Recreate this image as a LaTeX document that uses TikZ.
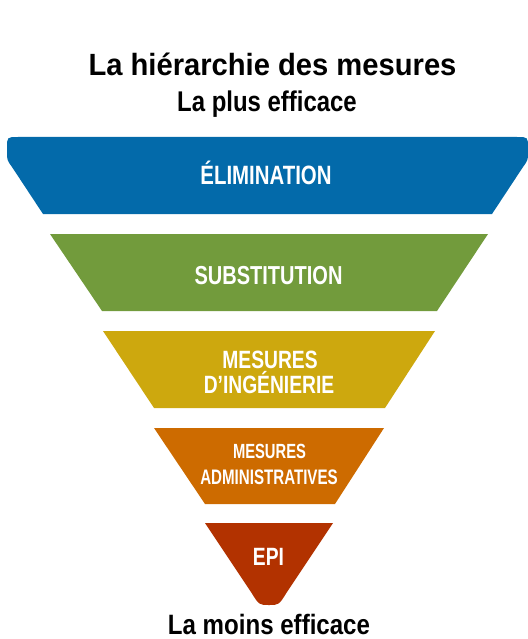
\documentclass[tikz,border=0pt]{standalone}
\usepackage{fontspec}
\newfontfamily\titlef[FakeStretch=0.95]{Liberation Sans}
\newfontfamily\subf[FakeStretch=0.84]{Liberation Sans}
\newfontfamily\lowf[FakeStretch=0.86]{Liberation Sans}
\newfontfamily\bandf[FakeStretch=0.77]{Liberation Sans}
\newfontfamily\smallbandf[FakeStretch=0.72]{Liberation Sans}
\definecolor{cElim}{RGB}{3,106,170}
\definecolor{cSubst}{RGB}{114,155,60}
\definecolor{cIng}{RGB}{205,168,14}
\definecolor{cAdm}{RGB}{205,107,0}
\definecolor{cEpi}{RGB}{178,50,0}
\tikzset{
  headtext/.style={anchor=base, text=black, inner sep=0pt},
  bandtext/.style={anchor=base, text=white, inner sep=0pt},
}
\begin{document}
\begin{tikzpicture}[x=1pt,y=-1pt]
\useasboundingbox (0,0) rectangle (527,639);
% bands
\fill[cElim] (43,214) -- (12,167) .. controls (7,160) .. (7,152) -- (7,148)
  .. controls (7,137) .. (18,137) -- (517,137) .. controls (528,137) .. (528,148)
  -- (528,152) .. controls (528,160) .. (523,167) -- (492,214) -- cycle;
\fill[cSubst] (50,234) -- (488,234) -- (437,311) -- (102,311) -- cycle;
\fill[cIng] (103,331) -- (435,331) -- (385,408) -- (154,408) -- cycle;
\fill[cAdm] (154,428) -- (384,428) -- (335,504) -- (205,504) -- cycle;
\fill[cEpi] (205,523) -- (333,523) -- (287,592) .. controls (279,605) .. (269,605)
  .. controls (259,605) .. (251,592) -- cycle;
% texts
\node[headtext, font=\titlef\bfseries\fontsize{30.7}{34}\selectfont] (title) at (272.5,76) {La hiérarchie des mesures};
\node[headtext, font=\subf\bfseries\fontsize{28.5}{32}\selectfont] (plus) at (267,112) {La plus efficace};
\node[headtext, font=\lowf\bfseries\fontsize{28}{32}\selectfont] (moins) at (269,634) {La moins efficace};
\node[bandtext, font=\bandf\bfseries\fontsize{26.5}{30}\selectfont] (elim) at (266,185) {ÉLIMINATION};
\node[bandtext, font=\bandf\bfseries\fontsize{26}{30}\selectfont] (subst) at (268.5,284) {SUBSTITUTION};
\node[bandtext, font=\bandf\bfseries\fontsize{25}{30}\selectfont] (ing1) at (270,368) {MESURES};
\node[bandtext, font=\bandf\bfseries\fontsize{25}{30}\selectfont] (ing2) at (269,393) {D’INGÉNIERIE};
\node[bandtext, font=\smallbandf\bfseries\fontsize{20.5}{24}\selectfont] (adm1) at (269.5,458) {MESURES};
\node[bandtext, font=\smallbandf\bfseries\fontsize{21}{24}\selectfont] (adm2) at (269,484) {ADMINISTRATIVES};
\node[bandtext, font=\bandf\bfseries\fontsize{25}{30}\selectfont] (epi) at (268.5,565) {EPI};
\end{tikzpicture}
\end{document}
